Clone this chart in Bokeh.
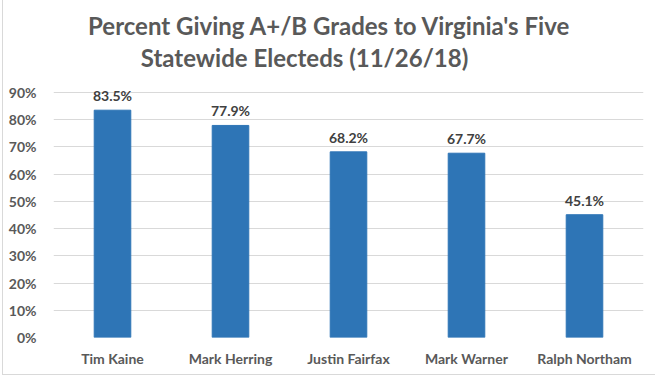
from bokeh.plotting import figure
from bokeh.models import ColumnDataSource, Label, LabelSet, Range1d, NumeralTickFormatter, FixedTicker
from bokeh.core.properties import value
from bokeh.embed import file_html
from bokeh.resources import INLINE

names = ["Tim Kaine", "Mark Herring", "Justin Fairfax", "Mark Warner", "Ralph Northam"]
values = [83.5, 77.9, 68.2, 67.7, 45.1]
labels = ["83.5%", "77.9%", "68.2%", "67.7%", "45.1%"]
title_lines = ["Percent Giving A+/B Grades to Virginia's Five", "Statewide Electeds (11/26/18)"]
y_ticks = [0, 0.1, 0.2, 0.3, 0.4, 0.5, 0.6, 0.7, 0.8, 0.9]

FONT = "Lato"
GREY = "#595959"

src = ColumnDataSource(dict(name=names, val=[v / 100 for v in values], lab=labels))

# frame spans canvas top to the 0% line; extra headroom hosts the title text
p = figure(x_range=names, width=655, height=377, output_backend="svg", toolbar_location=None,
           min_border_left=53, min_border_right=12, min_border_top=0, min_border_bottom=40)
p.title = None
p.y_range = Range1d(0, 337 / (245 / 0.9))
p.outline_line_color = None
p.background_fill_color = "white"
p.border_fill_color = None
p.styles = {"box-shadow": "inset 2px -2px 0 0 white, inset 3px -3px 0 0 #D9D9D9", "background": "white"}

p.vbar(x="name", top="val", width=0.31, source=src, color="#2E75B6")

p.add_layout(LabelSet(x="name", y="val", text="lab", source=src, text_align="center",
                      text_baseline="alphabetic", y_offset=9, text_font=value(FONT), text_font_style="bold",
                      text_font_size="14px", text_color="#404040"))

p.yaxis.ticker = FixedTicker(ticks=y_ticks)
p.yaxis.formatter = NumeralTickFormatter(format="0%")
for ax in (p.xaxis, p.yaxis):
    ax.axis_line_color = None
    ax.major_tick_line_color = None
    ax.minor_tick_line_color = None
    ax.major_label_text_font = FONT
    ax.major_label_text_font_style = "bold"
    ax.major_label_text_font_size = "14px"
    ax.major_label_text_color = GREY
p.yaxis.major_label_standoff = 11
p.xaxis.major_label_standoff = 6

p.xgrid.grid_line_color = None
p.ygrid.grid_line_color = "#D9D9D9"
p.ygrid.ticker = FixedTicker(ticks=y_ticks)

# screen units are relative to the frame (left=53, bottom=337 from top)
p.add_layout(Label(x=329 - 53, y=337 - 33 + 8, x_units="screen", y_units="screen", text=title_lines[0],
                   text_align="center", text_baseline="alphabetic", text_font=FONT,
                   text_font_style="bold", text_font_size="24px", text_color=GREY))
p.add_layout(Label(x=304 - 53, y=337 - 65 + 8, x_units="screen", y_units="screen", text=title_lines[1],
                   text_align="center", text_baseline="alphabetic", text_font=FONT,
                   text_font_style="bold", text_font_size="24px", text_color=GREY))

open("out.html", "w").write(file_html(p, INLINE))
